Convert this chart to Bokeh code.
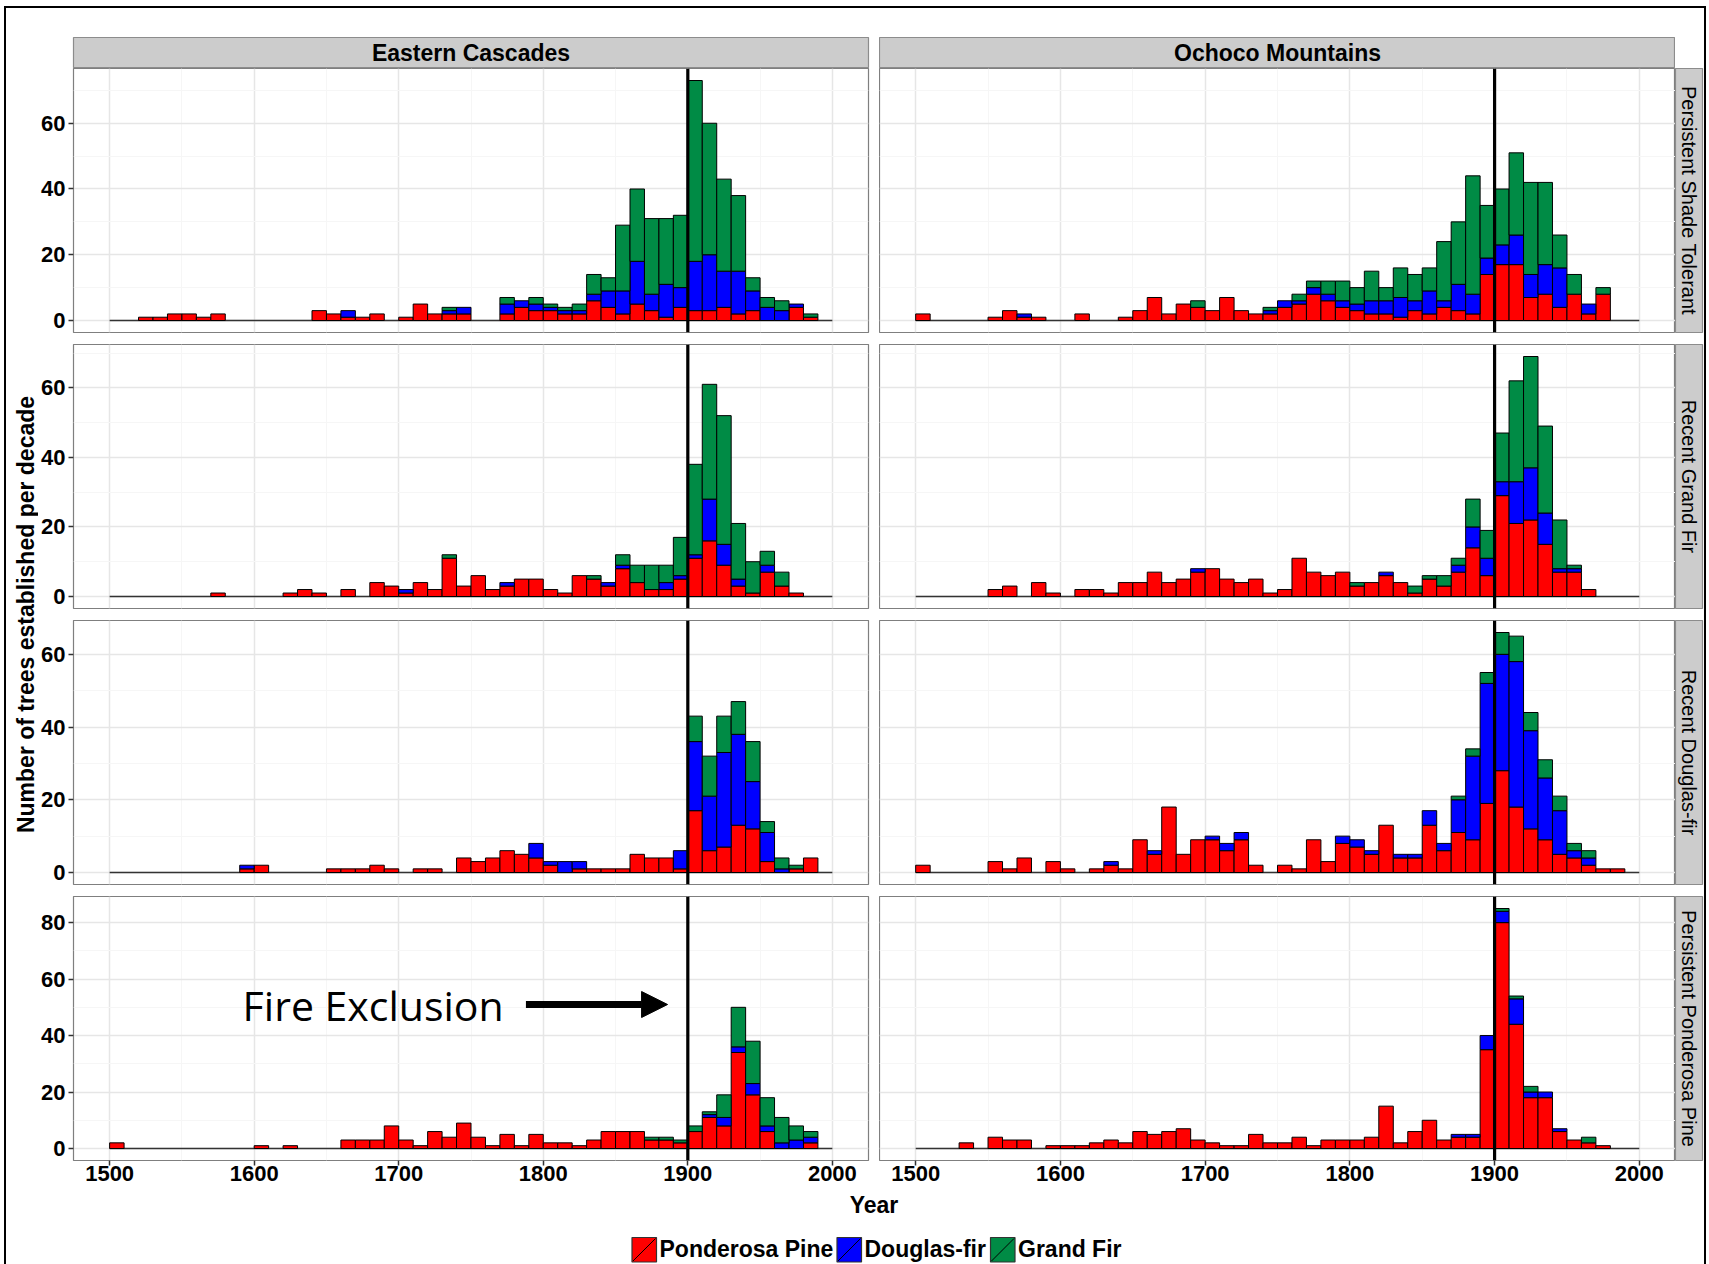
import math
from bokeh.plotting import figure
from bokeh.layouts import row, column
from bokeh.models import Range1d, FixedTicker, Span, Label, Arrow, NormalHead, Spacer
from bokeh.embed import file_html
from bokeh.resources import INLINE

# ---------------- data ----------------
decades = list(range(1500, 2000, 10))
regions = ["Eastern Cascades", "Ochoco Mountains"]
groups = ["Persistent Shade Tolerant", "Recent Grand Fir", "Recent Douglas-fir", "Persistent Ponderosa Pine"]
species = ["Ponderosa Pine", "Douglas-fir", "Grand Fir"]
species_colors = ["#FF0000", "#0000FF", "#008B45"]
x_ticks = [1500, 1600, 1700, 1800, 1900, 2000]

# Eastern Cascades – Persistent Shade Tolerant
ec_pst_pp = [0,0,1,1,2,2,1,2,0,0, 0,0,0,0,3,2,1,1,2,0, 1,5,2,2,2,0,0,2,4,3, 3,2,2,6,4,2,5,3,1,4, 3,3,4,2,3,0,0,4,1,0]
ec_pst_df = [0,0,0,0,0,0,0,0,0,0, 0,0,0,0,0,0,2,0,0,0, 0,0,0,1,2,0,0,3,2,2, 1,1,1,2,5,7,13,5,10,6, 15,17,11,13,6,4,3,1,0,0]
ec_pst_gf = [0,0,0,0,0,0,0,0,0,0, 0,0,0,0,0,0,0,0,0,0, 0,0,0,1,0,0,0,2,0,2, 1,1,2,6,4,20,22,23,20,22, 55,40,28,23,4,3,3,0,1,0]
# Ochoco Mountains – Persistent Shade Tolerant
om_pst_pp = [2,0,0,0,0,1,3,1,1,0, 0,2,0,0,1,3,7,2,5,4, 3,7,3,2,2,4,5,8,6,4, 3,2,2,1,3,2,4,3,2,14, 17,17,7,8,4,8,2,8,0,0]
om_pst_df = [0,0,0,0,0,0,0,1,0,0, 0,0,0,0,0,0,0,0,0,0, 0,0,0,0,1,2,1,2,2,2, 2,4,4,6,3,7,2,8,6,5, 6,9,7,9,12,0,3,0,0,0]
om_pst_gf = [0,0,0,0,0,0,0,0,0,0, 0,0,0,0,0,0,0,0,0,2, 0,0,0,0,1,0,2,2,4,6, 5,9,4,9,8,7,18,19,36,16, 17,25,28,25,10,6,0,2,0,0]
# Eastern Cascades – Recent Grand Fir
ec_rgf_pp = [0,0,0,0,0,0,0,1,0,0, 0,0,1,2,1,0,2,0,4,3, 1,4,2,11,3,6,2,3,5,5, 2,1,6,5,3,8,4,2,2,5, 11,16,9,3,1,7,3,1,0,0]
ec_rgf_df = [0,0,0,0,0,0,0,0,0,0, 0,0,0,0,0,0,0,0,0,0, 1,0,0,0,0,0,0,1,0,0, 0,0,0,0,1,1,0,0,2,1, 1,12,6,2,0,2,0,0,0,0]
ec_rgf_gf = [0,0,0,0,0,0,0,0,0,0, 0,0,0,0,0,0,0,0,0,0, 0,0,0,1,0,0,0,0,0,0, 0,0,0,1,0,3,5,7,5,11, 26,33,37,16,9,4,4,0,0,0]
# Ochoco Mountains – Recent Grand Fir
om_rgf_pp = [0,0,0,0,0,2,3,0,4,1, 0,2,2,1,4,4,7,4,5,7, 8,5,4,5,1,2,11,7,6,7, 3,4,6,4,1,5,3,7,14,6, 29,21,22,15,7,7,2,0,0,0]
om_rgf_df = [0,0,0,0,0,0,0,0,0,0, 0,0,0,0,0,0,0,0,0,1, 0,0,0,0,0,0,0,0,0,0, 0,0,1,0,0,0,0,2,6,5, 4,12,15,9,1,1,0,0,0,0]
om_rgf_gf = [0,0,0,0,0,0,0,0,0,0, 0,0,0,0,0,0,0,0,0,0, 0,0,0,0,0,0,0,0,0,0, 1,0,0,0,2,1,3,2,8,8, 14,29,32,25,14,1,0,0,0,0]
# Eastern Cascades – Recent Douglas-fir
ec_rdf_pp = [0,0,0,0,0,0,0,0,0,1, 2,0,0,0,0,1,1,1,2,1, 0,1,1,0,4,3,4,6,5,4, 2,0,1,1,1,1,5,4,4,1, 17,6,7,13,12,3,0,1,4,0]
ec_rdf_df = [0,0,0,0,0,0,0,0,0,1, 0,0,0,0,0,0,0,0,0,0, 0,0,0,0,0,0,0,0,0,4, 1,3,2,0,0,0,0,0,0,5, 19,15,26,25,13,8,1,0,0,0]
ec_rdf_gf = [0,0,0,0,0,0,0,0,0,0, 0,0,0,0,0,0,0,0,0,0, 0,0,0,0,0,0,0,0,0,0, 0,0,0,0,0,0,0,0,0,0, 7,11,10,9,11,3,3,1,0,0]
# Ochoco Mountains – Recent Douglas-fir
om_rdf_pp = [2,0,0,0,0,3,1,4,0,3, 1,0,1,2,1,9,5,18,5,9, 9,6,9,2,0,2,1,9,3,8, 7,5,13,4,4,13,6,11,9,19, 28,18,12,9,5,4,2,1,1,0]
om_rdf_df = [0,0,0,0,0,0,0,0,0,0, 0,0,0,1,0,0,1,0,0,0, 1,2,2,0,0,0,0,0,0,2, 2,1,0,1,1,4,2,9,23,33, 32,40,27,17,12,2,2,0,0,0]
om_rdf_gf = [0,0,0,0,0,0,0,0,0,0, 0,0,0,0,0,0,0,0,0,0, 0,0,0,0,0,0,0,0,0,0, 0,0,0,0,0,0,0,1,2,3, 6,7,5,5,4,2,2,0,0,0]
# Eastern Cascades – Persistent Ponderosa Pine
ec_ppp_pp = [2,0,0,0,0,0,0,0,0,0, 1,0,1,0,0,0,3,3,3,8, 3,1,6,4,9,4,1,5,1,5, 2,2,1,3,6,6,6,3,3,2, 6,11,8,34,19,6,0,0,2,0]
ec_ppp_df = [0,0,0,0,0,0,0,0,0,0, 0,0,0,0,0,0,0,0,0,0, 0,0,0,0,0,0,0,0,0,0, 0,0,0,0,0,0,0,0,0,0, 0,1,3,2,4,2,2,3,2,0]
ec_ppp_gf = [0,0,0,0,0,0,0,0,0,0, 0,0,0,0,0,0,0,0,0,0, 0,0,0,0,0,0,0,0,0,0, 0,0,0,0,0,0,0,1,1,1, 2,1,8,14,15,10,9,5,2,0]
# Ochoco Mountains – Persistent Ponderosa Pine
om_ppp_pp = [0,0,0,2,0,4,3,3,0,1, 1,1,2,3,2,6,5,6,7,3, 2,1,1,5,2,2,4,1,3,3, 3,4,15,2,6,10,3,4,4,35, 80,44,18,18,6,3,2,1,0,0]
om_ppp_df = [0,0,0,0,0,0,0,0,0,0, 0,0,0,0,0,0,0,0,0,0, 0,0,0,0,0,0,0,0,0,0, 0,0,0,0,0,0,0,1,1,5, 4,9,2,2,1,0,0,0,0,0]
om_ppp_gf = [0,0,0,0,0,0,0,0,0,0, 0,0,0,0,0,0,0,0,0,0, 0,0,0,0,0,0,0,0,0,0, 0,0,0,0,0,0,0,0,0,0, 1,1,2,0,0,0,2,0,0,0]

DATA = {
    (0, 0): (ec_pst_pp, ec_pst_df, ec_pst_gf),
    (0, 1): (om_pst_pp, om_pst_df, om_pst_gf),
    (1, 0): (ec_rgf_pp, ec_rgf_df, ec_rgf_gf),
    (1, 1): (om_rgf_pp, om_rgf_df, om_rgf_gf),
    (2, 0): (ec_rdf_pp, ec_rdf_df, ec_rdf_gf),
    (2, 1): (om_rdf_pp, om_rdf_df, om_rdf_gf),
    (3, 0): (ec_ppp_pp, ec_ppp_df, ec_ppp_gf),
    (3, 1): (om_ppp_pp, om_ppp_df, om_ppp_gf),
}

# ---------------- layout constants ----------------
FONT = "Liberation Sans"
FW, FH = 796, 264          # panel frame size
L_BORDER = 34              # room for y tick labels
GAP_X = 11
GAP_Y = 12
XAXIS_H = 30
STRIP_TOP_H, STRIP_TOP_PAD = 31, 29
RSTRIP_W = 27
TITLE_W = 32
BW = 10

def row_range(ri):
    tot = [max(a + b + c for a, b, c in zip(*DATA[(ri, ci)])) for ci in (0, 1)]
    m = max(tot)
    return (-0.05 * m, 1.05 * m)

def style_axis(ax, standoff):
    ax.axis_line_color = None
    ax.major_tick_line_color = "#333333"
    ax.major_tick_line_width = 1.5
    ax.major_tick_out = 5
    ax.major_tick_in = 0
    ax.minor_tick_line_color = None
    ax.major_label_text_font = FONT
    ax.major_label_text_font_style = "bold"
    ax.major_label_text_font_size = "22px"
    ax.major_label_text_color = "black"
    ax.major_label_standoff = standoff

def make_panel(ri, ci):
    left = ci == 0
    bottom = ri == 3
    lo, hi = row_range(ri)
    ytop = 80 if ri == 3 else 60
    yt = list(range(0, ytop + 1, 20))
    ymin = [v + 10 for v in yt]
    mb_bottom = XAXIS_H if bottom else GAP_Y
    p = figure(width=(L_BORDER + FW + GAP_X) if left else FW,
               height=FH + mb_bottom,
               x_range=Range1d(1475, 2025), y_range=Range1d(lo, hi),
               x_axis_location="below" if bottom else None,
               y_axis_location="left" if left else None,
               output_backend="svg", toolbar_location=None,
               min_border_left=L_BORDER if left else 0,
               min_border_right=GAP_X if left else 0,
               min_border_top=0, min_border_bottom=mb_bottom)
    p.background_fill_color = "white"
    p.border_fill_color = "white"
    p.outline_line_color = "#7F7F7F"
    p.outline_line_width = 1.2
    xt = FixedTicker(ticks=x_ticks, minor_ticks=[t + 50 for t in x_ticks])
    ytk = FixedTicker(ticks=yt, minor_ticks=ymin)
    for g in p.xgrid:
        g.ticker = xt
    for g in p.ygrid:
        g.ticker = ytk
    p.grid.grid_line_color = "#E6E6E6"
    p.grid.grid_line_width = 1.5
    p.grid.minor_grid_line_color = "#F6F6F6"
    p.grid.minor_grid_line_width = 1
    for ax in p.xaxis:
        ax.ticker = FixedTicker(ticks=x_ticks)
        style_axis(ax, 0)
    for ax in p.yaxis:
        ax.ticker = FixedTicker(ticks=yt)
        style_axis(ax, 3)

    # baseline of empty bins
    p.segment(x0=[decades[0]], x1=[decades[-1] + BW], y0=[0], y1=[0],
              line_color="#333333", line_width=1.5)
    # stacked bars
    series = DATA[(ri, ci)]
    base = [0] * len(decades)
    for vals, col in zip(series, species_colors):
        L, R, B, T = [], [], [], []
        for d, b, v in zip(decades, base, vals):
            if v > 0:
                L.append(d); R.append(d + BW); B.append(b); T.append(b + v)
        p.quad(left=L, right=R, bottom=B, top=T, fill_color=col,
               line_color="black", line_width=1)
        base = [b + v for b, v in zip(base, vals)]
    p.add_layout(Span(location=1900, dimension="height", line_color="black", line_width=3.2))

    if ri == 3 and ci == 0:
        p.add_layout(Label(x=1592, y=51, text="Fire Exclusion", text_font="Open Sans",
                           text_font_size="41px", text_baseline="middle", text_align="left",
                           text_color="black"))
        p.add_layout(Arrow(x_start=1788, y_start=51, x_end=1886, y_end=51,
                           line_width=7, line_color="black",
                           end=NormalHead(size=26, fill_color="black", line_color="black")))
    return p

def strip(text, w, h, mb_top=0, mb_bottom=0, mb_right=0, vertical=False):
    f = figure(width=w, height=h, x_range=Range1d(0, 1), y_range=Range1d(0, 1),
               x_axis_location=None, y_axis_location=None,
               output_backend="svg", toolbar_location=None,
               min_border_left=0, min_border_right=mb_right,
               min_border_top=mb_top, min_border_bottom=mb_bottom)
    f.grid.visible = False
    f.background_fill_color = "#CCCCCC"
    f.border_fill_color = "white"
    f.outline_line_color = "#8C8C8C"
    f.outline_line_width = 1.2
    f.add_layout(Label(x=0.5, y=0.5, text=text, text_align="center", text_baseline="middle",
                       angle=-math.pi / 2 if vertical else 0,
                       text_font=FONT,
                       text_font_style="normal" if vertical else "bold",
                       text_font_size="20px" if vertical else "23px",
                       text_color="black"))
    return f

def blank(w, h, xr, yr):
    f = figure(width=w, height=h, x_range=Range1d(*xr), y_range=Range1d(*yr),
               x_axis_location=None, y_axis_location=None,
               output_backend="svg", toolbar_location=None, min_border=0)
    f.grid.visible = False
    f.outline_line_color = None
    f.background_fill_color = "white"
    f.border_fill_color = "white"
    return f

# panels
panels = {(ri, ci): make_panel(ri, ci) for ri in range(4) for ci in range(2)}

strip_left = strip(regions[0], L_BORDER + FW + GAP_X, STRIP_TOP_PAD + STRIP_TOP_H, mb_top=STRIP_TOP_PAD)
strip_left.min_border_left = L_BORDER
strip_left.min_border_right = GAP_X
strip_right = strip(regions[1], FW, STRIP_TOP_PAD + STRIP_TOP_H, mb_top=STRIP_TOP_PAD)

rstrips = []
for ri, g in enumerate(groups):
    mb = XAXIS_H if ri == 3 else GAP_Y
    rstrips.append(strip(g, RSTRIP_W + 2, FH + mb, mb_bottom=mb, mb_right=2, vertical=True))

total_h = STRIP_TOP_PAD + STRIP_TOP_H + 3 * (FH + GAP_Y) + FH + XAXIS_H
top_abs = 8
# y-axis title column (absolute pixel coordinates, y downwards)
ytitle = blank(TITLE_W, total_h, (6, 6 + TITLE_W), (top_abs + total_h, top_abs))
ytitle.add_layout(Label(x=25, y=614, text="Number of trees established per decade",
                        angle=math.pi / 2, text_align="center", text_baseline="middle",
                        text_font=FONT, text_font_style="bold", text_font_size="23px",
                        text_color="black"))

full_w = TITLE_W + (L_BORDER + FW + GAP_X) + FW + RSTRIP_W + 2
bot_top = top_abs + total_h
bot_h = 1264 - bot_top
bottom = blank(full_w, bot_h, (6, 6 + full_w), (bot_top + bot_h, bot_top))
bottom.add_layout(Label(x=873.5, y=1204, text="Year", text_align="center", text_baseline="middle",
                        text_font=FONT, text_font_style="bold", text_font_size="23px",
                        text_color="black"))
# legend
key_x = [631.5, 836.5, 990.0]
key = 24.5
ky0, ky1 = 1237.0, 1261.5
bottom.quad(left=key_x, right=[k + key for k in key_x], top=[ky0] * 3, bottom=[ky1] * 3,
            fill_color=species_colors, line_color="#333333", line_width=1.2)
bottom.segment(x0=[k + 1 for k in key_x], y0=[ky1 - 1] * 3, x1=[k + key - 1 for k in key_x],
               y1=[ky0 + 1] * 3, line_color="black", line_width=1)
for k, name in zip(key_x, species):
    bottom.add_layout(Label(x=k + key + 3, y=1248.5, text=name, text_align="left",
                            text_baseline="middle", text_font=FONT, text_font_style="bold",
                            text_font_size="23px", text_color="black"))

left_col = column([strip_left] + [panels[(ri, 0)] for ri in range(4)], spacing=0)
right_col = column([strip_right] + [panels[(ri, 1)] for ri in range(4)], spacing=0)
rs_col = column([Spacer(width=RSTRIP_W + 2, height=STRIP_TOP_PAD + STRIP_TOP_H)] + rstrips, spacing=0)
main = row([ytitle, left_col, right_col, rs_col], spacing=0)
layout = column([main, bottom], spacing=0)
layout.styles = {"border-top": "2px solid black", "border-left": "2px solid black",
                 "border-right": "2px solid black", "margin-top": "6px", "margin-left": "4px",
                 "background-color": "white"}

open("out.html", "w").write(file_html(layout, INLINE, title="Tree establishment"))
